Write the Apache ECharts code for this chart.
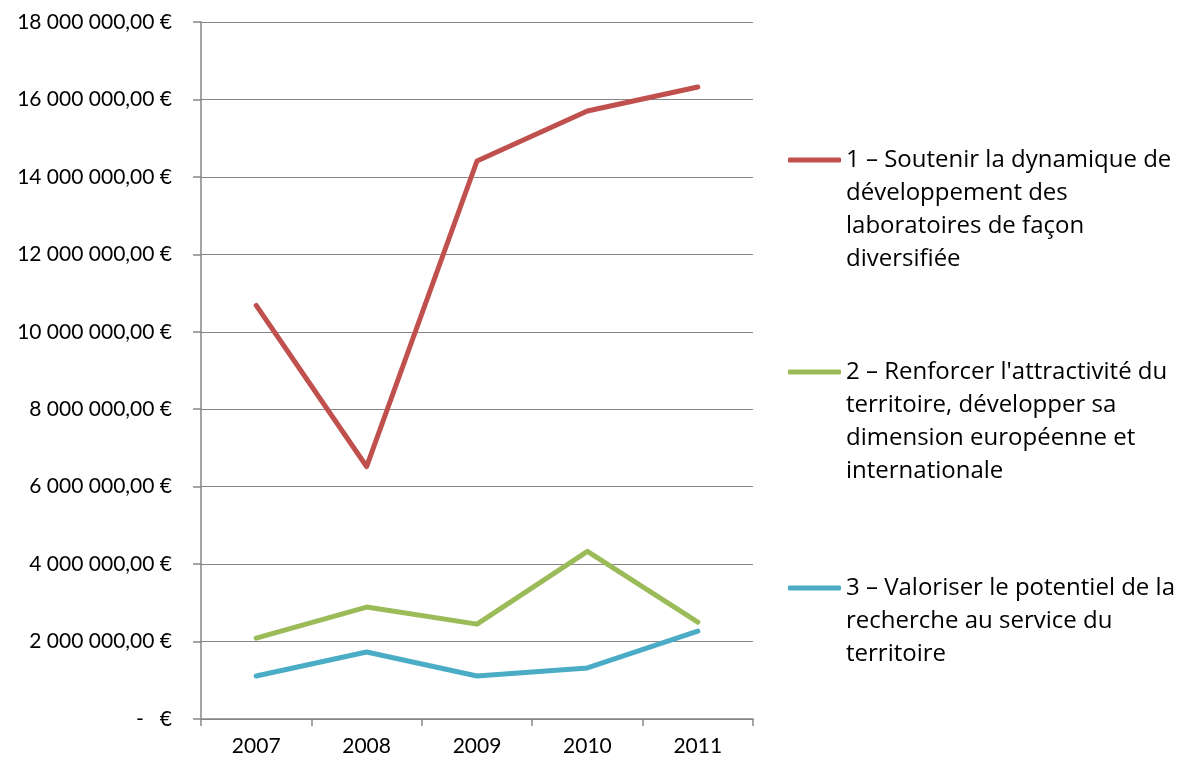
<!DOCTYPE html>
<html>
<head>
<meta charset="utf-8">
<script src="https://cdn.jsdelivr.net/npm/echarts@6/dist/echarts.min.js"></script>
<style>
html,body{margin:0;padding:0;background:#fff;}
#chart{width:1191px;height:763px;}
</style>
</head>
<body>
<div id="chart"></div>
<script>
var categories = ['2007', '2008', '2009', '2010', '2011'];
var seriesNames = [
  '1 – Soutenir la dynamique de développement des laboratoires de façon diversifiée',
  "2 – Renforcer l'attractivité du territoire, développer sa dimension européenne et internationale",
  '3 – Valoriser le potentiel de la recherche au service du territoire'
];
var legendLines1 = ['1 – Soutenir la dynamique de', 'développement des', 'laboratoires de façon', 'diversifiée'];
var legendLines2 = ["2 – Renforcer l'attractivité du", 'territoire, développer sa', 'dimension européenne et', 'internationale'];
var legendLines3 = ['3 – Valoriser le potentiel de la', 'recherche au service du', 'territoire'];
var values1 = [10680000, 6520000, 14410000, 15700000, 16320000];
var values2 = [2090000, 2890000, 2450000, 4330000, 2500000];
var values3 = [1110000, 1730000, 1110000, 1320000, 2270000];
var colors = ['#C0504D', '#9BBB59', '#4BACC6'];
var yMax = 18000000;
var yInterval = 2000000;

var FONT = 'Lato';
var LFONT = 'Open Sans';
var LH = 33;
var allLines = [legendLines1, legendLines2, legendLines3];

function fmtEuro(v) {
  if (v === 0) return '-   €';
  var s = Math.round(v).toString();
  var out = '';
  while (s.length > 3) { out = ' ' + s.slice(-3) + out; s = s.slice(0, -3); }
  return s + out + ',00 €';
}

function makeLegend(i, iconY) {
  var lines = allLines[i];
  var n = lines.length;
  var blanks = [];
  for (var k = 0; k < n - 1; k++) blanks.push(' ');
  var half = ((2 * n - 1) * LH) / 2;
  return {
    data: [seriesNames[i]],
    left: 788,
    top: iconY - half,
    padding: 0,
    icon: 'roundRect',
    itemWidth: 53,
    itemHeight: 5,
    selectedMode: false,
    formatter: function () { return blanks.concat(lines).join('\n'); },
    textStyle: {
      fontFamily: LFONT, fontSize: 24, color: '#000', lineHeight: LH
    }
  };
}

var chart = echarts.init(document.getElementById('chart'), null, {renderer: 'canvas'});
var valuesAll = [values1, values2, values3];
chart.setOption({
  animation: false,
  backgroundColor: '#fff',
  grid: {left: 201, right: 438, top: 22, bottom: 44, containLabel: false},
  legend: [makeLegend(0, 160), makeLegend(1, 372), makeLegend(2, 588)],
  xAxis: {
    type: 'category',
    data: categories,
    boundaryGap: true,
    axisLine: {lineStyle: {color: '#868686', width: 1.5}},
    axisTick: {show: true, length: 7, lineStyle: {color: '#868686', width: 1.5}},
    axisLabel: {fontFamily: FONT, fontSize: 21, color: '#000', margin: 17}
  },
  yAxis: {
    type: 'value',
    min: 0,
    max: yMax,
    interval: yInterval,
    axisLine: {show: true, lineStyle: {color: '#868686', width: 1.5}},
    axisTick: {show: true, length: 8, lineStyle: {color: '#868686', width: 1.5}},
    splitLine: {show: true, lineStyle: {color: '#868686', width: 1.2}},
    axisLabel: {fontFamily: FONT, fontSize: 21, color: '#000', margin: 29, formatter: fmtEuro}
  },
  series: valuesAll.map(function (vals, i) {
    return {
      name: seriesNames[i],
      type: 'line',
      data: vals,
      showSymbol: false,
      symbol: 'none',
      color: colors[i],
      lineStyle: {color: colors[i], width: 5, cap: 'round', join: 'round'},
      itemStyle: {color: colors[i]}
    };
  })
});
</script>
</body>
</html>
